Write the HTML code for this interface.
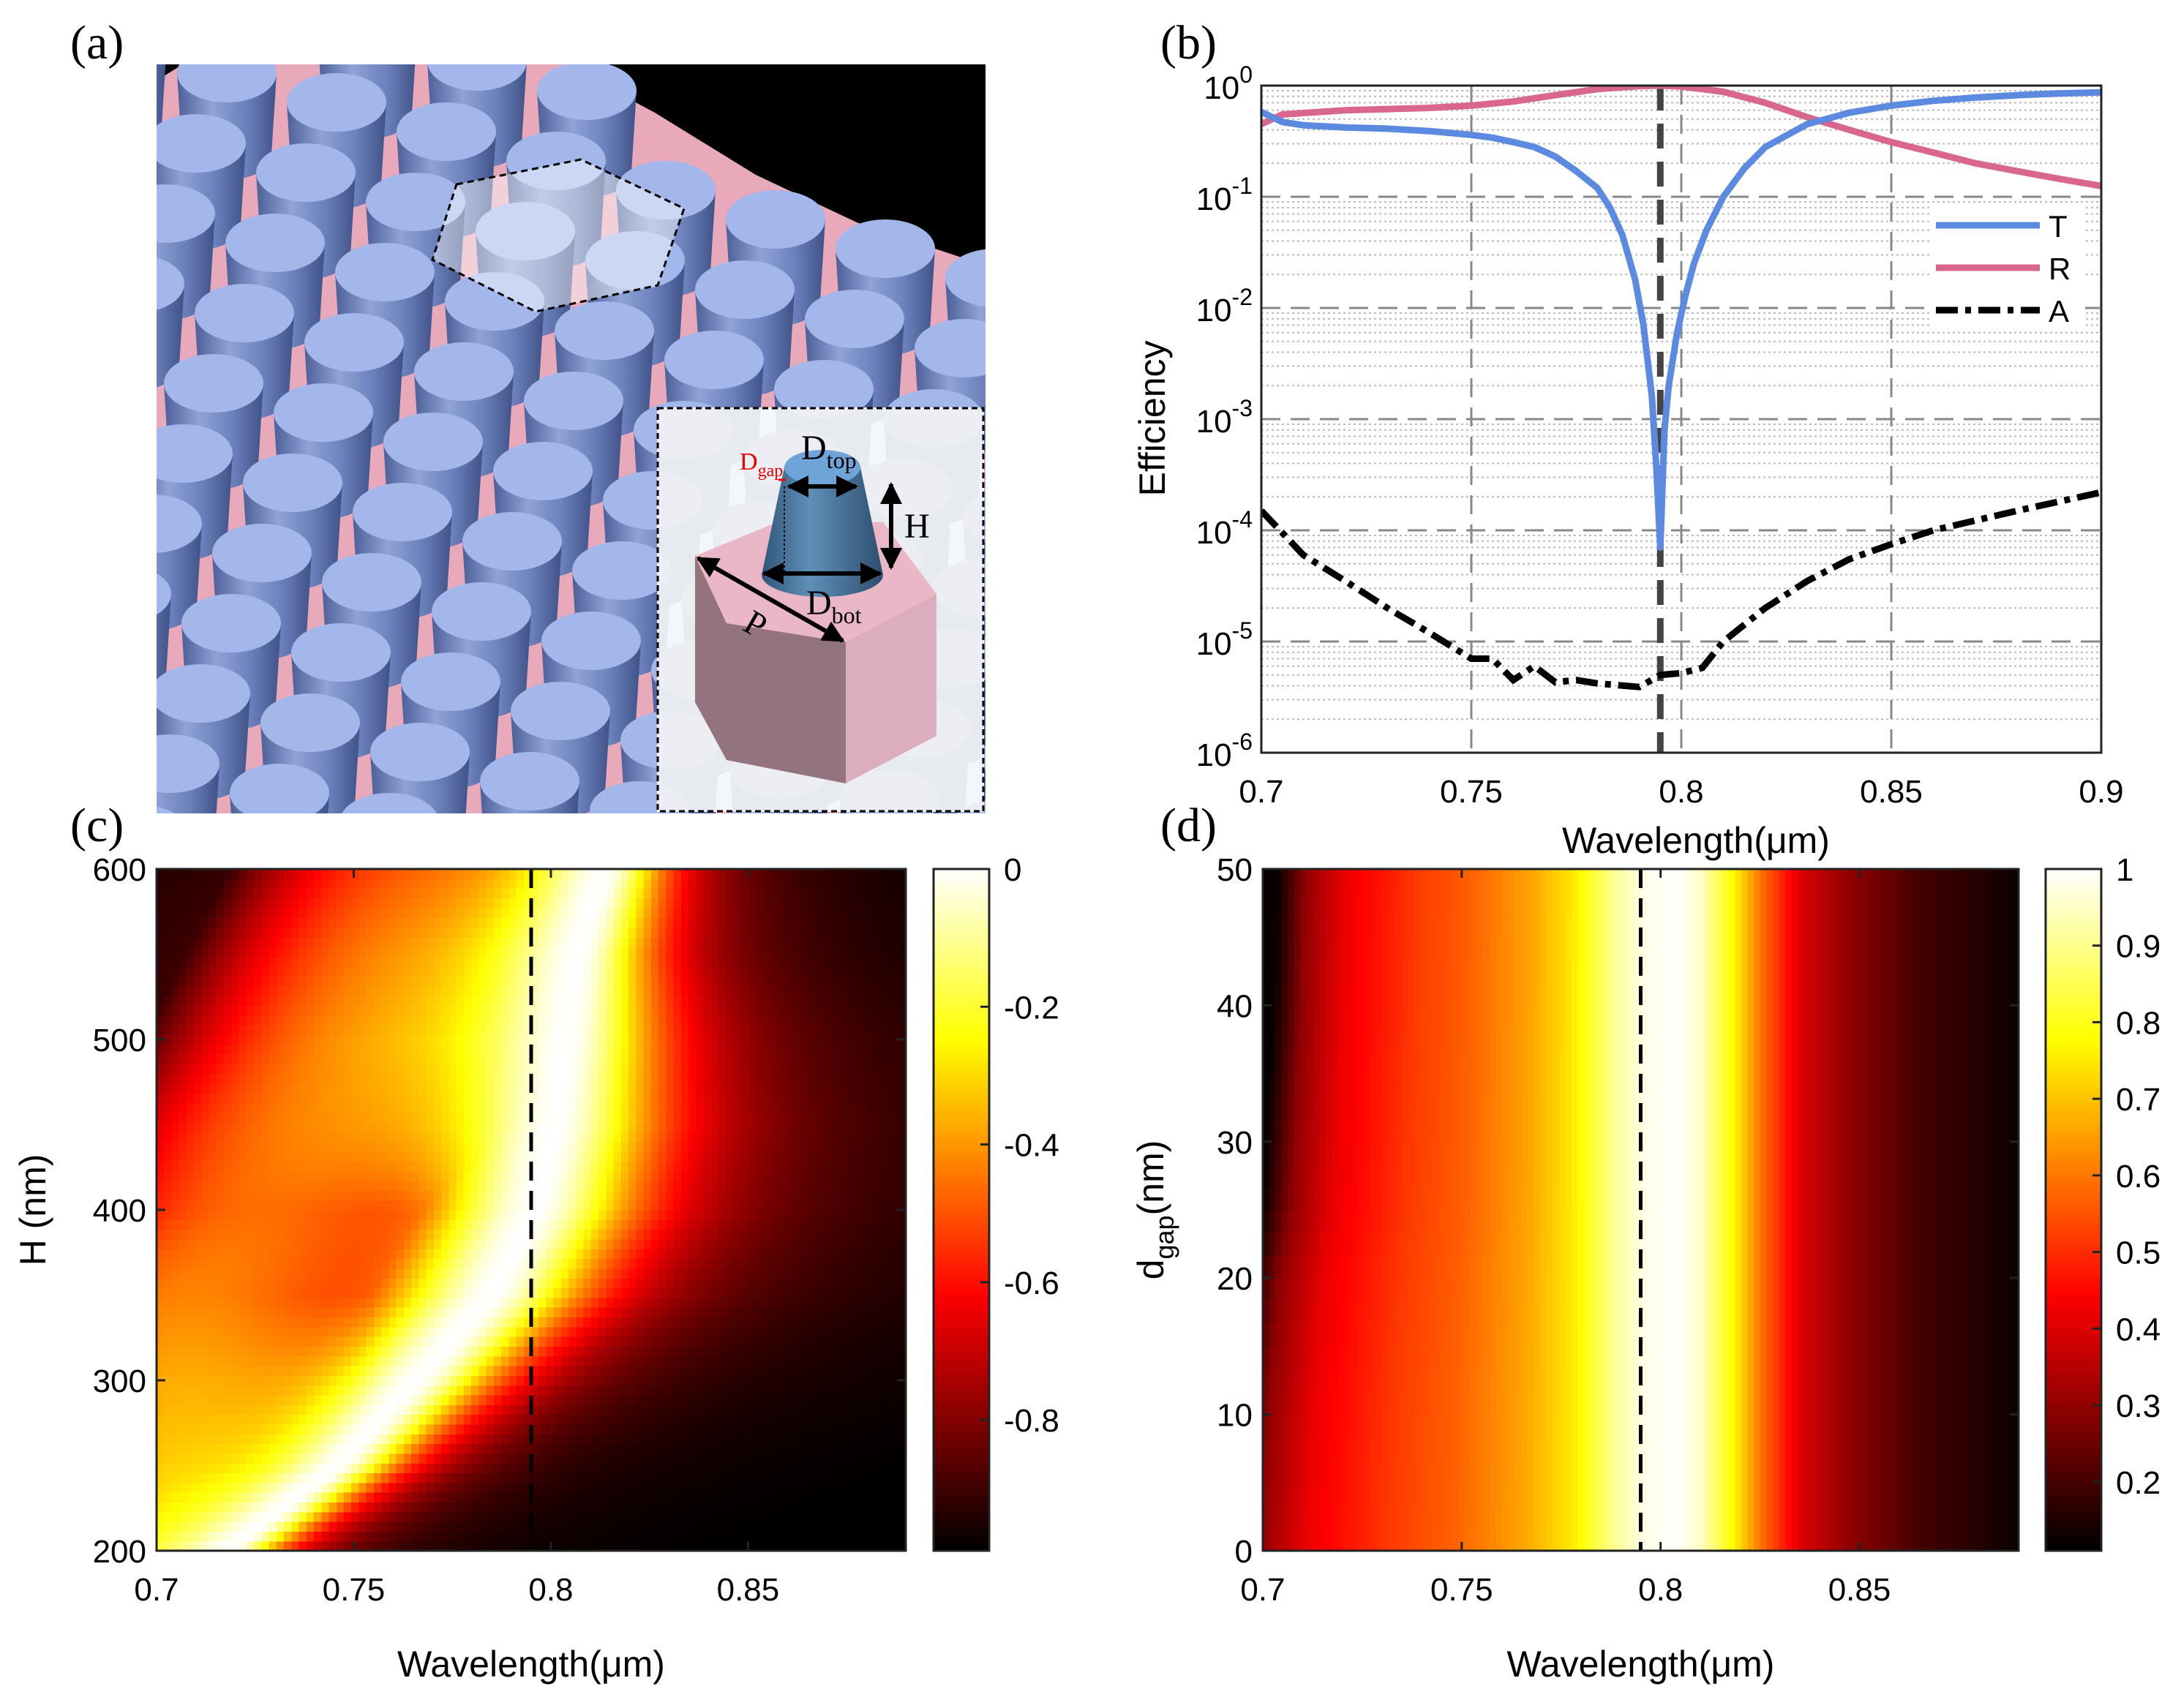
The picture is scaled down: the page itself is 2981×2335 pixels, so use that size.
<!DOCTYPE html>
<html><head><meta charset="utf-8">
<style>
html,body{margin:0;padding:0;background:#fff;}
svg{display:block;font-family:"Liberation Sans",Arial,sans-serif;}
</style></head>
<body>
<svg id="root" width="2981" height="2335" viewBox="0 0 2981 2335" xmlns="http://www.w3.org/2000/svg">
<defs>
  <linearGradient id="cylSide" x1="0" x2="1" y1="0" y2="0">
    <stop offset="0" stop-color="#4c5f98"/>
    <stop offset="0.35" stop-color="#8fa3d6"/>
    <stop offset="0.7" stop-color="#6b80bb"/>
    <stop offset="1" stop-color="#3f5287"/>
  </linearGradient>
  <linearGradient id="frSide" x1="0" x2="1" y1="0" y2="0">
    <stop offset="0" stop-color="#2f5679"/>
    <stop offset="0.4" stop-color="#5f8fb8"/>
    <stop offset="1" stop-color="#2d4e6e"/>
  </linearGradient>
  <linearGradient id="hotV" x1="0" x2="0" y1="1" y2="0">
    <stop offset="0" stop-color="#000"/>
    <stop offset="0.375" stop-color="#f00"/>
    <stop offset="0.75" stop-color="#ff0"/>
    <stop offset="1" stop-color="#fff"/>
  </linearGradient>
  <clipPath id="clipA"><rect x="214" y="88" width="1133" height="1024"/></clipPath>
  <clipPath id="clipInset"><rect x="898" y="557" width="447" height="553"/></clipPath>
  <clipPath id="clipB"><rect x="1724" y="117" width="1148" height="912"/></clipPath>
  <marker id="arr" viewBox="0 0 10 10" refX="9" refY="5" markerWidth="5" markerHeight="5" orient="auto-start-reverse"><path d="M0,0L10,5L0,10z" fill="#000"/></marker>
</defs>

<text x="96" y="80" font-family="Liberation Serif,serif" font-size="66">(a)</text>
<text x="1586" y="80" font-family="Liberation Serif,serif" font-size="66">(b)</text>
<text x="96" y="1150" font-family="Liberation Serif,serif" font-size="66">(c)</text>
<text x="1586" y="1150" font-family="Liberation Serif,serif" font-size="66">(d)</text>

<g id="panelA" clip-path="url(#clipA)">
  <rect x="214" y="88" width="1133" height="1024" fill="#e8a9ba"/>
  <polygon points="772,88 1347,88 1347,363 1171,304 1033,239 895,154" fill="#000"/>
  <polygon points="214,88 250,88 214,110" fill="#000"/>
  <g id="cyls"></g>
  <polygon points="624,252 794,218 935,285 899,390 732,426 591,355" fill="rgba(255,255,255,0.45)" stroke="#000" stroke-width="3" stroke-dasharray="9,6"/>
  <g id="inset">
    <rect x="898" y="557" width="447" height="553" fill="#f3f6fb"/>
    <g clip-path="url(#clipInset)" opacity="0.12" id="insetGhost"></g>
    <polygon points="950,760 993,852 1156,878 1280,812 1207,714 1069,711" fill="#e9b7c6"/>
    <polygon points="950,760 993,852 1156,878 1156,1071 993,1039 950,960" fill="#93737e"/>
    <polygon points="1156,878 1280,812 1280,1006 1156,1071" fill="#dcadbd"/>
    <path d="M1072,639 L1041,786 A83,30 0 0 0 1207,786 L1176,639 Z" fill="url(#frSide)"/>
    <ellipse cx="1124" cy="639" rx="52" ry="24" fill="#6ea4d8"/>
    <line x1="1072" y1="665" x2="1072" y2="786" stroke="#000" stroke-width="2" stroke-dasharray="3,3"/>
    <line x1="1064" y1="656" x2="1074" y2="656" stroke="#e00" stroke-width="3"/>
    <line x1="1078" y1="665" x2="1170" y2="665" stroke="#000" stroke-width="6" marker-start="url(#arr)" marker-end="url(#arr)"/>
    <line x1="1218" y1="662" x2="1218" y2="776" stroke="#000" stroke-width="6" marker-start="url(#arr)" marker-end="url(#arr)"/>
    <line x1="1044" y1="784" x2="1203" y2="784" stroke="#000" stroke-width="6" marker-start="url(#arr)" marker-end="url(#arr)"/>
    <line x1="954" y1="763" x2="1152" y2="876" stroke="#000" stroke-width="6" marker-start="url(#arr)" marker-end="url(#arr)"/>
    <text x="1095" y="628" font-family="Liberation Serif,serif" font-size="48">D<tspan font-size="32" dy="12">top</tspan></text>
    <text x="1011" y="642" font-family="Liberation Serif,serif" font-size="34" fill="#e00">D<tspan font-size="24" dy="9">gap</tspan></text>
    <text x="1236" y="735" font-family="Liberation Serif,serif" font-size="48">H</text>
    <text x="1102" y="840" font-family="Liberation Serif,serif" font-size="48">D<tspan font-size="32" dy="12">bot</tspan></text>
    <text x="1018" y="868" font-family="Liberation Serif,serif" font-size="48" transform="rotate(30 1030 855)">P</text>
    <rect x="899" y="558" width="445" height="551" fill="none" stroke="#000" stroke-width="3" stroke-dasharray="8,5"/>
  </g>
</g>

<g id="panelB"></g>
<g id="panelC"></g>
<g id="panelD"></g>
</svg>

<script>
// ---------- Panel B data ----------
const bWl  = [0.70,0.705,0.71,0.72,0.73,0.74,0.75,0.755,0.76,0.765,0.77,0.775,0.78,0.783,0.786,0.789,0.791,0.793,0.794,0.795,0.796,0.797,0.799,0.801,0.803,0.806,0.81,0.815,0.82,0.83,0.84,0.85,0.86,0.87,0.88,0.89,0.90];
const bT   = [0.58,0.47,0.44,0.42,0.41,0.39,0.36,0.34,0.31,0.28,0.23,0.17,0.12,0.08,0.045,0.018,0.007,0.0016,0.0004,0.00007,0.0008,0.002,0.006,0.013,0.025,0.05,0.10,0.18,0.28,0.45,0.57,0.66,0.73,0.78,0.82,0.85,0.87];
const bRwl = [0.70,0.705,0.72,0.74,0.75,0.76,0.77,0.78,0.79,0.795,0.80,0.81,0.82,0.83,0.84,0.85,0.86,0.87,0.88,0.89,0.90];
const bR   = [0.45,0.55,0.60,0.63,0.66,0.72,0.82,0.93,0.99,1.0,0.98,0.88,0.70,0.52,0.40,0.31,0.25,0.20,0.17,0.145,0.125];
const bAwl = [0.70,0.71,0.72,0.73,0.74,0.75,0.755,0.76,0.765,0.77,0.775,0.78,0.79,0.795,0.80,0.805,0.81,0.82,0.83,0.84,0.85,0.86,0.88,0.90];
const bA   = [1.5e-4,6e-5,3.5e-5,2e-5,1.2e-5,7e-6,7e-6,4.5e-6,6e-6,4.3e-6,4.5e-6,4.2e-6,3.9e-6,5e-6,5.2e-6,5.8e-6,1e-5,2e-5,3.5e-5,5.5e-5,7.5e-5,1e-4,1.5e-4,2.2e-4];
const bXticks = [0.7,0.75,0.8,0.85,0.9];
const bXtickLabels = ["0.7","0.75","0.8","0.85","0.9"];
const bYexps = [0,-1,-2,-3,-4,-5,-6];
const bMarker = 0.795;

// ---------- Panel C data ----------
const cHeights  = [200,250,300,350,400,450,500,550,600];
const cResWl    = [0.718,0.746,0.766,0.785,0.796,0.801,0.804,0.807,0.814];
const cLeftW    = [0.020,0.025,0.030,0.032,0.032,0.035,0.035,0.033,0.030];
const cRightW   = [0.014,0.017,0.022,0.026,0.028,0.028,0.025,0.020,0.016];
const cBroadWl  = [0.700,0.700,0.700,0.705,0.720,0.735,0.750,0.755,0.760];
const cBroadLvl = [-0.40,-0.42,-0.45,-0.50,-0.55,-0.55,-0.55,-0.60,-0.65];
const cBroadW   = [0.050,0.060,0.070,0.070,0.070,0.080,0.080,0.075,0.070];
const cXticks = [0.7,0.75,0.8,0.85];
const cXtickLabels = ["0.7","0.75","0.8","0.85"];
const cYticks = [200,300,400,500,600];
const cCbTicks = [0,-0.2,-0.4,-0.6,-0.8];
const cCbLabels = ["0","-0.2","-0.4","-0.6","-0.8"];

// ---------- Panel D data ----------
const dWl      = [0.700,0.7074,0.718,0.737,0.751,0.767,0.778,0.788,0.7956,0.804,0.810,0.818,0.825,0.835,0.847,0.865,0.889];
const dProfile = [0.12,0.30,0.42,0.52,0.57,0.66,0.75,0.90,0.98,1.00,0.95,0.78,0.60,0.40,0.30,0.20,0.13];
const dGaps    = [0,10,20,25,30,40,50];
const dShift   = [-0.008,-0.006,-0.003,0.000,0.001,0.003,0.004];
const dXticks = [0.7,0.75,0.8,0.85];
const dXtickLabels = ["0.7","0.75","0.8","0.85"];
const dYticks = [0,10,20,30,40,50];
const dCbTicks = [1,0.9,0.8,0.7,0.6,0.5,0.4,0.3,0.2];
const dCbLabels = ["1","0.9","0.8","0.7","0.6","0.5","0.4","0.3","0.2"];

const NS="http://www.w3.org/2000/svg";
function mk(tag,attrs,parent){const e=document.createElementNS(NS,tag);for(const k in attrs)e.setAttribute(k,attrs[k]);if(parent)parent.appendChild(e);return e;}
function interp(xs,ys,x){if(x<=xs[0])return ys[0];for(let i=1;i<xs.length;i++){if(x<=xs[i]){const t=(x-xs[i-1])/(xs[i]-xs[i-1]);return ys[i-1]+t*(ys[i]-ys[i-1]);}}return ys[ys.length-1];}
function hot(t){t=Math.max(0,Math.min(1,t));const r=Math.min(1,t/0.375),g=Math.max(0,Math.min(1,(t-0.375)/0.375)),b=Math.max(0,Math.min(1,(t-0.75)/0.25));return `rgb(${Math.round(r*255)},${Math.round(g*255)},${Math.round(b*255)})`;}

// ---------- Panel A cylinders ----------
(function(){
  const g=document.getElementById('cyls'), gh=document.getElementById('insetGhost');
  const list=[];
  for(let i=-8;i<14;i++)for(let j=-4;j<16;j++){
    const x=160+i*150-j*42, y=60+i*40+j*96;
    if(x<140||x>1430||y<30||y>1150)continue;
    if(y < 88+0.478*(x-772)-10 && x>700)continue;
    list.push([x,y]);
  }
  list.sort((a,b)=>a[1]-b[1]);
  list.forEach(([x,y])=>{
    for(const parent of [g,gh]){
      const c=mk('g',{},parent);
      
      
      mk('path',{d:`M${x-68},${y} L${x-61},${y+112} A61,34 0 0 0 ${x+61},${y+112} L${x+68},${y} Z`,fill:parent===gh?'#999':'url(#cylSide)'},c);
      mk('ellipse',{cx:x,cy:y,rx:68,ry:40,fill:parent===gh?'#bbb':'#a3b7ea'},c);
    }
  });
})();

// ---------- Panel B chart ----------
(function(){
  const g=document.getElementById('panelB');
  const L=1724,R=2872,T=117,B=1029;
  const xs=v=>L+(v-0.7)/0.2*(R-L);
  const ys=v=>T+(-Math.log10(v))/6*(B-T);
  mk('rect',{x:L,y:T,width:R-L,height:B-T,fill:'#fff'},g);
  for(let e=0;e>-6;e--)for(let m=2;m<=9;m++){
    const y=ys(m*Math.pow(10,e-1));
    const l=mk('line',{x1:L,x2:R,y1:y,y2:y,stroke:'#bbb','stroke-width':2,'stroke-dasharray':'3,4'},g);
    
    
  }
  bYexps.forEach(e=>{const y=ys(Math.pow(10,e));
    const l=mk('line',{x1:L,x2:R,y1:y,y2:y,stroke:'#888','stroke-width':3,'stroke-dasharray':'26,14'},g);
    
    
    const t=mk('text',{x:L-12,y:y+18,'text-anchor':'end','font-size':44},g);
    
    
    t.appendChild(document.createTextNode('10'));
    const s=mk('tspan',{'font-size':32,dy:-22},t);s.textContent=String(e);
  });
  bXticks.forEach((v,i)=>{const x=xs(v);
    if(i>0&&i<bXticks.length-1){const l=mk('line',{x1:x,x2:x,y1:T,y2:B,stroke:'#888','stroke-width':3,'stroke-dasharray':'26,14'},g);
      
      }
    const t=mk('text',{x:x,y:B+68,'text-anchor':'middle','font-size':44},g);
    
    
    t.textContent=bXtickLabels[i];
  });
  const cl=mk('g',{'clip-path':'url(#clipB)'},g);
  const mline=mk('line',{x1:xs(bMarker),x2:xs(bMarker),y1:T,y2:B,stroke:'#444','stroke-width':9,'stroke-dasharray':'34,18'},cl);
  
  
  const path=(X,Y)=>X.map((x,i)=>(i?'L':'M')+xs(x).toFixed(1)+','+ys(Y[i]).toFixed(1)).join('');
  const pR=mk('path',{d:path(bRwl,bR),fill:'none',stroke:'#d9668e','stroke-width':9,'stroke-linejoin':'round'},cl);
  
  
  const pT=mk('path',{d:path(bWl,bT),fill:'none',stroke:'#5b8ae0','stroke-width':9,'stroke-linejoin':'round'},cl);
  
  
  const pA=mk('path',{d:path(bAwl,bA),fill:'none',stroke:'#000','stroke-width':9,'stroke-dasharray':'30,10,8,10'},cl);
  
  
  mk('rect',{x:L,y:T,width:R-L,height:B-T,fill:'none',stroke:'#222','stroke-width':3},g);
  const leg=[['T','#5b8ae0',308,null],['R','#d9668e',366,null],['A','#000',424,'30,10,8,10']];
  leg.forEach(([n,c,y,d])=>{
    const lg=mk('g',{},g);
    
    
    mk('rect',{x:2640,y:y-28,width:210,height:56,fill:'#fff'},lg);
    const a={x1:2646,x2:2788,y1:y,y2:y,stroke:c,'stroke-width':9};if(d)a['stroke-dasharray']=d;
    mk('line',a,lg);
    const t=mk('text',{x:2800,y:y+16,'font-size':42},lg);t.textContent=n;
  });
  const yl=mk('text',{x:1592,y:572,'text-anchor':'middle','font-size':50,transform:'rotate(-90 1592 572)'},g);
  
  
  yl.textContent='Efficiency';
  const xl=mk('text',{x:2318,y:1166,'text-anchor':'middle','font-size':50},g);
  
  
  xl.textContent='Wavelength(μm)';
})();

function axesFrame(g,L,R,T,B,xmin,xmax,ymin,ymax,xt,xtl,yt,ytl,cbX,cbMin,cbMax,cbT,cbL,ylabel,ylabelX,marker){
  const xs=v=>L+(v-xmin)/(xmax-xmin)*(R-L), ys=v=>B-(v-ymin)/(ymax-ymin)*(B-T);
  const ml=mk('line',{x1:xs(marker),x2:xs(marker),y1:T,y2:B,stroke:'#000','stroke-width':5,'stroke-dasharray':'26,14'},g);
  
  
  mk('rect',{x:L,y:T,width:R-L,height:B-T,fill:'none',stroke:'#222','stroke-width':3},g);
  xt.forEach((v,i)=>{const x=xs(v);
    mk('line',{x1:x,x2:x,y1:B,y2:B-12,stroke:'#222','stroke-width':3},g);
    mk('line',{x1:x,x2:x,y1:T,y2:T+12,stroke:'#222','stroke-width':3},g);
    const t=mk('text',{x:x,y:B+68,'text-anchor':'middle','font-size':44},g);
    
    
    t.textContent=xtl[i];});
  yt.forEach((v,i)=>{const y=ys(v);
    mk('line',{x1:L,x2:L+12,y1:y,y2:y,stroke:'#222','stroke-width':3},g);
    mk('line',{x1:R,x2:R-12,y1:y,y2:y,stroke:'#222','stroke-width':3},g);
    const t=mk('text',{x:L-14,y:y+16,'text-anchor':'end','font-size':44},g);
    
    
    t.textContent=ytl[i];});
  const cb=mk('rect',{x:cbX,y:T,width:76,height:B-T,fill:'url(#hotV)',stroke:'#222','stroke-width':3},g);
  
  
  const cy=v=>B-(v-cbMin)/(cbMax-cbMin)*(B-T);
  cbT.forEach((v,i)=>{const y=cy(v);
    mk('line',{x1:cbX+76,x2:cbX+64,y1:y,y2:y,stroke:'#222','stroke-width':3},g);
    const t=mk('text',{x:cbX+96,y:y+16,'font-size':44},g);
    
    
    t.textContent=cbL[i];});
  const xl=mk('text',{x:(L+R)/2,y:B+172,'text-anchor':'middle','font-size':50},g);
  
  
  xl.textContent='Wavelength(μm)';
  const my=(T+B)/2;
  const yl=mk('text',{x:ylabelX,y:my,'text-anchor':'middle','font-size':50,transform:`rotate(-90 ${ylabelX} ${my})`},g);
  
  
  if(ylabel==='gap'){yl.appendChild(document.createTextNode('d'));const s=mk('tspan',{'font-size':36,dy:14},yl);s.textContent='gap';const s2=mk('tspan',{dy:-14},yl);s2.textContent='(nm)';}
  else yl.textContent=ylabel;
}

// ---------- Panel C ----------
(function(){
  const g=document.getElementById('panelC');
  const L=214,R=1238,T=1188,B=2120,xmin=0.7,xmax=0.89,ymin=200,ymax=600;
  const NX=100,NY=70;const cw=(R-L)/NX,ch=(B-T)/NY;
  const cells=mk('g',{'shape-rendering':'crispEdges'},g);
  for(let j=0;j<NY;j++){
    const H=ymin+(j+0.5)/NY*(ymax-ymin);
    const rw=interp(cHeights,cResWl,H),lw=interp(cHeights,cLeftW,H),rW=interp(cHeights,cRightW,H);
    const bc=interp(cHeights,cBroadWl,H),bl=interp(cHeights,cBroadLvl,H),bw=interp(cHeights,cBroadW,H);
    for(let i=0;i<NX;i++){
      const wl=xmin+(i+0.5)/NX*(xmax-xmin);
      const d=wl-rw,w=d<0?lw:rW;
      const a=1/(1+(d*d)/(w*w));
      const b=wl<rw?Math.max(0,1+bl-Math.pow((wl-bc)/bw,2)):0;
      const v=-1+(1-(1-a)*(1-b));
      const r=mk('rect',{x:(L+i*cw).toFixed(2),y:(B-(j+1)*ch).toFixed(2),width:(cw+0.6).toFixed(2),height:(ch+0.6).toFixed(2),fill:hot((v+0.99)/0.99)},cells);
      
      
    }
  }
  axesFrame(g,L,R,T,B,xmin,xmax,ymin,ymax,cXticks,cXtickLabels,cYticks,cYticks.map(String),1276,-0.99,0,cCbTicks,cCbLabels,'H (nm)',62,0.795);
})();

// ---------- Panel D ----------
(function(){
  const g=document.getElementById('panelD');
  const L=1726,R=2759,T=1188,B=2120,xmin=0.7,xmax=0.89,ymin=0,ymax=50;
  const NX=120,NY=30;const cw=(R-L)/NX,ch=(B-T)/NY;
  const cells=mk('g',{'shape-rendering':'crispEdges'},g);
  for(let j=0;j<NY;j++){
    const gap=ymin+(j+0.5)/NY*(ymax-ymin);
    const sh=interp(dGaps,dShift,gap);
    for(let i=0;i<NX;i++){
      const wl=xmin+(i+0.5)/NX*(xmax-xmin);
      const w2=wl<0.78?wl-sh*Math.max(0,(0.78-wl)/0.08):wl;
      const v=interp(dWl,dProfile,w2);
      const r=mk('rect',{x:(L+i*cw).toFixed(2),y:(B-(j+1)*ch).toFixed(2),width:(cw+0.6).toFixed(2),height:(ch+0.6).toFixed(2),fill:hot((v-0.11)/0.89)},cells);
      
      
    }
  }
  axesFrame(g,L,R,T,B,xmin,xmax,ymin,ymax,dXticks,dXtickLabels,dYticks,dYticks.map(String),2796,0.11,1,dCbTicks,dCbLabels,'gap',1590,0.795);
})();
</script>
</body></html>
